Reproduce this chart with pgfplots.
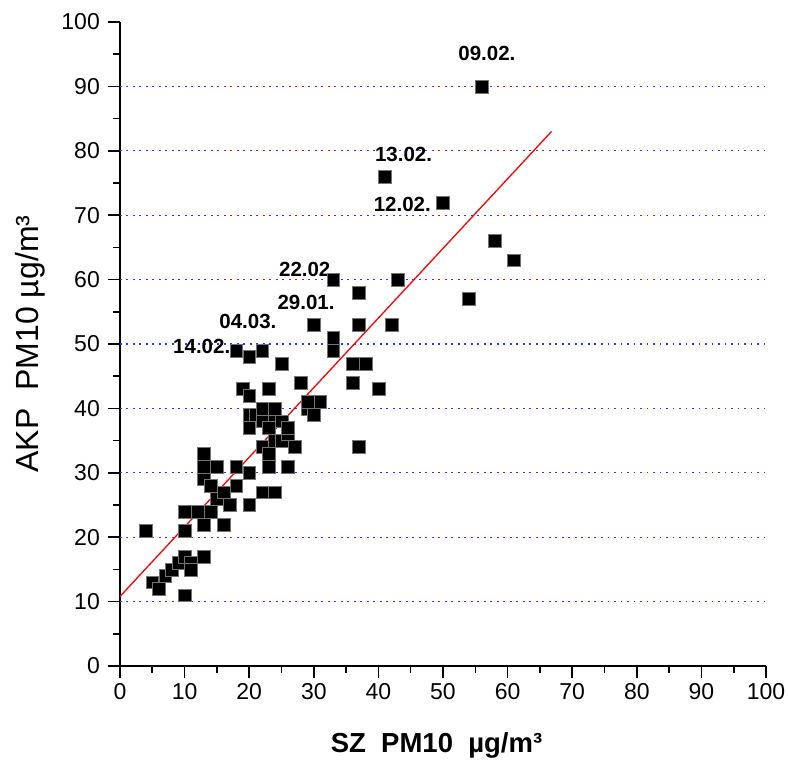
\documentclass[border=0pt]{standalone}
\usepackage{fontspec}
\setmainfont{Liberation Sans}
\usepackage{pgfplots}
\usepackage{pgfplotstable}
\pgfplotsset{compat=1.18}
\pgfplotstableread{
x y
4 21
5 13
6 12
7 14
8 15
9 16
10 17
10 11
10 21
10 24
11 16
11 15
12 24
13 17
13 22
13 29
13 31
13 33
14 24
14 28
15 26
15 31
16 22
16 27
17 25
18 28
18 31
18 49
19 43
20 25
20 30
20 37
20 39
20 42
20 48
21 39
22 27
22 34
22 38
22 40
22 49
23 31
23 33
23 37
23 43
24 27
24 35
24 39
24 40
25 35
25 38
25 47
26 36
26 37
26 31
27 34
28 44
29 40
29 41
30 39
30 53
31 41
33 49
33 51
33 60
36 44
36 47
37 34
37 53
37 58
38 47
40 43
41 76
42 53
43 60
50 72
54 57
56 90
58 66
61 63
}\pts
\begin{document}
\begin{tikzpicture}
\path[use as bounding box] (-120pt,-94pt) rectangle (668pt,666pt);
\begin{axis}[
  scale only axis, width=646pt, height=644pt,
  xmin=0, xmax=100, ymin=0, ymax=100,
  axis lines=left,
  axis line style={-, line width=1.6pt, black},
  xtick={0,10,...,100}, ytick={0,10,...,100},
  minor tick num=1,
  tick align=outside,
  major tick length=12pt, minor tick length=7pt,
  every tick/.style={black, line width=1.6pt},
  /pgf/number format/assume math mode=true,
  xticklabel style={font=\fontsize{23}{23}\selectfont, inner sep=0pt, yshift=-5pt},
  yticklabel style={font=\fontsize{23}{23}\selectfont, inner sep=0pt, xshift=-8pt},
  extra y ticks={10,20,...,90},
  extra y tick labels={},
  extra y tick style={grid=major, major tick length=0pt,
     major grid style={blue!80, line width=1.3pt, dash pattern=on 1.6pt off 4.9pt}},
  xlabel={SZ\ \ PM10\ \ µg/m³},
  ylabel={AKP\ \ PM10 µg/m³},
  xlabel style={font=\bfseries\fontsize{27.5}{27.5}\selectfont, at={(axis description cs:0.49,-0.123)}, anchor=center},
  ylabel style={font=\fontsize{32}{32}\selectfont, at={(axis description cs:-0.139,0.5)}, anchor=center},
  clip=false,
]
\addplot[only marks, mark=square*, mark size=6.4pt,
  mark options={fill=black, draw=black!55, line width=0.4pt}] table[x=x,y=y] {\pts};
\addplot[red, line width=1.3pt, no marks] coordinates {(0,10.8) (66.8,83.0)};
\begin{scope}[every node/.style={font=\bfseries\fontsize{20.5}{20.5}\selectfont, inner sep=0pt}]
\node at (axis cs:56.8,95.1) {09.02.};
\node at (axis cs:43.9,79.5) {13.02.};
\node at (axis cs:43.7,71.7) {12.02.};
\node at (axis cs:28.6,61.5) {22.02};
\node at (axis cs:28.8,56.4) {29.01.};
\node at (axis cs:19.8,53.5) {04.03.};
\node at (axis cs:12.65,49.6) {14.02.};
\end{scope}
\end{axis}
\end{tikzpicture}
\end{document}
